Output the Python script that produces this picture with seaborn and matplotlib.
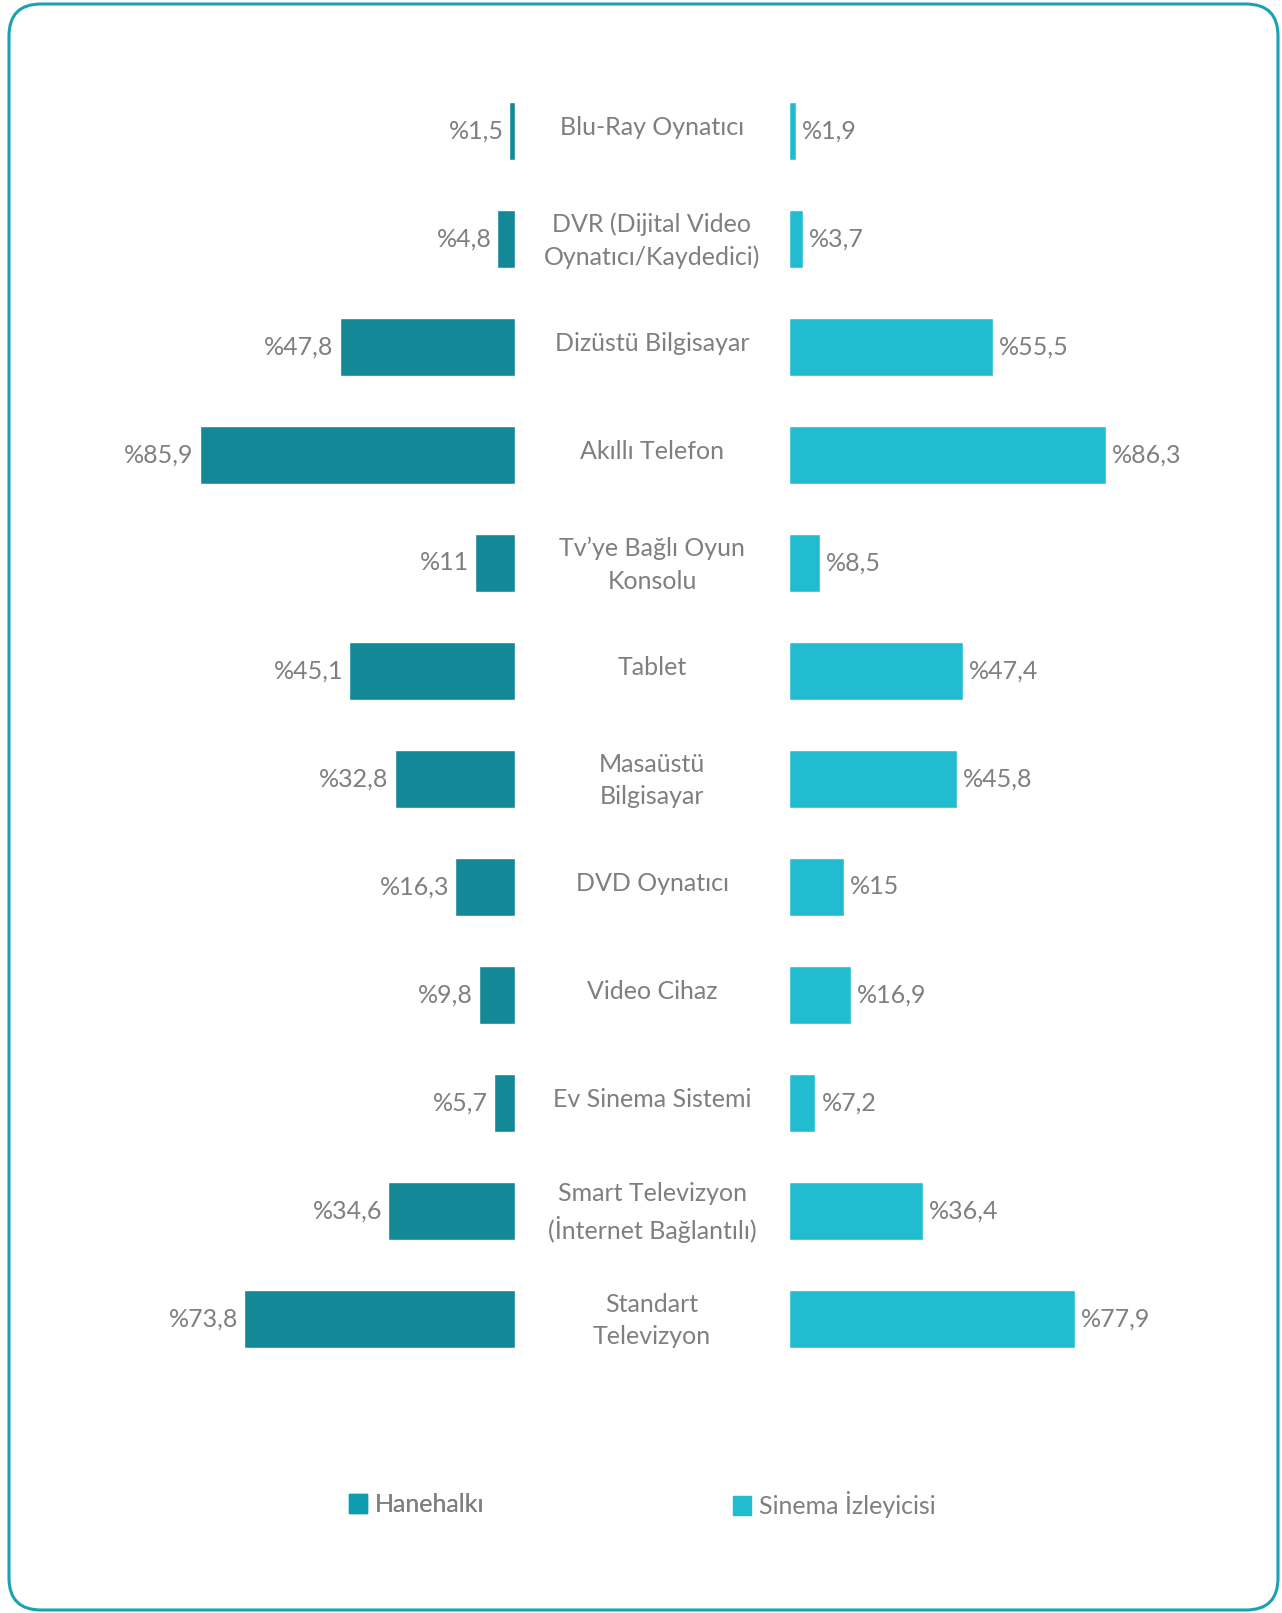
import matplotlib
matplotlib.use("Agg")
import matplotlib.pyplot as plt
import matplotlib.transforms as mtransforms
from matplotlib.patches import FancyBboxPatch, Patch
import seaborn as sns
import pandas as pd

# --- data ---
categories = [
    "Blu-Ray Oynatıcı",
    "DVR (Dijital Video\nOynatıcı/Kaydedici)",
    "Dizüstü Bilgisayar",
    "Akıllı Telefon",
    "Tv’ye Bağlı Oyun\nKonsolu",
    "Tablet",
    "Masaüstü\nBilgisayar",
    "DVD Oynatıcı",
    "Video Cihaz",
    "Ev Sinema Sistemi",
    "Smart Televizyon\n(İnternet Bağlantılı)",
    "Standart\nTelevizyon",
]
hanehalki = [1.5, 4.8, 47.8, 85.9, 11, 45.1, 32.8, 16.3, 9.8, 5.7, 34.6, 73.8]
sinema = [1.9, 3.7, 55.5, 86.3, 8.5, 47.4, 45.8, 15, 16.9, 7.2, 36.4, 77.9]
series_names = ["Hanehalkı", "Sinema İzleyicisi"]

dark = "#138896"
light = "#22BCD0"
legend_dark = "#0E9CB0"
border = "#18A2B2"
grey = "#7F7F7F"

sns.set_theme(style="white")
plt.rcParams["font.family"] = ["Lato", "DejaVu Sans"]

W, H = 1282, 1613
fig = plt.figure(figsize=(W / 100, H / 100), dpi=100)

def box(x0, x1, y_top, y_bot):
    return [x0 / W, 1 - y_bot / H, (x1 - x0) / W, (y_bot - y_top) / H]

# 100 units = 367 px
ax_l = fig.add_axes(box(515 - 367, 515, 77, 1373))
ax_r = fig.add_axes(box(789, 789 + 367, 77, 1373))

df = pd.DataFrame({"cat": categories, "h": hanehalki, "s": sinema})

sns.barplot(data=df, x="h", y="cat", color=dark, orient="h", width=0.53,
            saturation=1, ax=ax_l)
sns.barplot(data=df, x="s", y="cat", color=light, orient="h", width=0.53,
            saturation=1, ax=ax_r)

def fmt(v):
    s = f"{v:g}".replace(".", ",")
    return "%" + s

fs = 18
for ax, vals, side in [(ax_l, hanehalki, "l"), (ax_r, sinema, "r")]:
    ax.set_xlim(0, 100)
    ax.set_ylim(len(categories) - 0.5, -0.5)
    ax.axis("off")
    for i, v in enumerate(vals):
        if side == "l":
            ax.annotate(fmt(v), (v, i), xytext=(-6, 0), textcoords="offset pixels",
                        ha="right", va="center", color=grey, fontsize=fs)
        else:
            ax.annotate(fmt(v), (v, i), xytext=(6, 0), textcoords="offset pixels",
                        ha="left", va="center", color=grey, fontsize=fs)
ax_l.invert_xaxis()

# category labels in the middle
trans = mtransforms.blended_transform_factory(fig.transFigure, ax_l.transData)
for i, c in enumerate(categories):
    dy = 0.015 if "\n" in c else -0.03
    ax_l.text(652 / W, i + dy, c, transform=trans, ha="center", va="center",
              color=grey, fontsize=fs, linespacing=1.5, clip_on=False)

# legend
leg_y = 1 - 1505 / H
leg_kw = dict(loc="center left", frameon=False, fontsize=fs, labelcolor=grey,
              handlelength=0.75, handleheight=0.8, handletextpad=0.3)
l1 = fig.legend(handles=[Patch(color=legend_dark, label=series_names[0])],
                bbox_to_anchor=(326 / W, leg_y), **leg_kw)
fig.add_artist(l1)
fig.legend(handles=[Patch(color=light, label=series_names[1])],
           bbox_to_anchor=(710 / W, leg_y), **leg_kw)

# rounded frame
frame = FancyBboxPatch((9, 3), W - 13, H - 7,
                       boxstyle="round,pad=0,rounding_size=32",
                       transform=None, fill=False, edgecolor=border, linewidth=2.2)
fig.patches.append(frame)

fig.savefig("out.png", dpi=100)
